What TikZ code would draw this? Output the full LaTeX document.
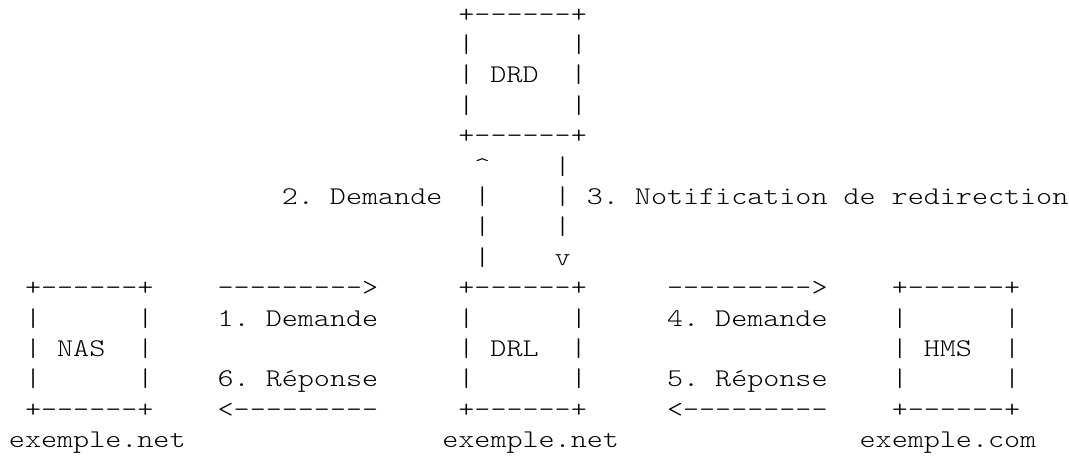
\documentclass[tikz,border=0pt]{standalone}
\usepackage{fontspec}
% Light typewriter face, widened a little, loaded directly (no TeX ligature mapping)
\font\asciifont="[lmmonolt10-regular]:extend=1.2" at 12.75pt
\newlength\cellw
\setlength\cellw{8.025pt}
% set a string one character per fixed-width cell (write spaces as ~)
\def\mono#1{\monostep#1\relax}
\def\monostep#1{\ifx#1\relax\else\makebox[\cellw][c]{#1}\expandafter\monostep\fi}
\tikzset{
  cell/.style={anchor=base west, inner sep=0pt, outer sep=0pt,
    font=\asciifont, text=black}
}
% place text at a character cell: name, column, row, text
\newcommand\asc[4]{\node[cell] (#1) at ({4.5pt+#2*\cellw},{-11pt-#3*15.2pt}) {\mono{#4}};}
\begin{document}
\begin{tikzpicture}
\useasboundingbox (0,0) rectangle (534.5pt,-227.5pt);
% DRD
\asc{drdA}{28}{0}{+------+}
\asc{drdB}{28}{1}{|~~~~~~|}
\asc{drd}{28}{2}{|~DRD~~|}
\asc{drdC}{28}{3}{|~~~~~~|}
\asc{drdD}{28}{4}{+------+}
% vertical links between DRD and DRL
\asc{upA}{29}{5}{\textasciicircum}
\asc{dnA}{34}{5}{|}
\asc{lblB}{17}{6}{2.~Demande}
\asc{upB}{29}{6}{|}
\asc{dnB}{34}{6}{|}
\asc{lblC}{36}{6}{3.~Notification~de~redirection}
\asc{upC}{29}{7}{|}
\asc{dnC}{34}{7}{|}
\asc{upD}{29}{8}{|}
\asc{dnD}{34}{8}{v}
% NAS
\asc{nasA}{1}{9}{+------+}
\asc{nasB}{1}{10}{|~~~~~~|}
\asc{nas}{1}{11}{|~NAS~~|}
\asc{nasC}{1}{12}{|~~~~~~|}
\asc{nasD}{1}{13}{+------+}
\asc{nasDom}{0}{14}{exemple.net}
% NAS <-> DRL
\asc{arrA}{13}{9}{--------->}
\asc{lblA}{13}{10}{1.~Demande}
\asc{lblF}{13}{12}{6.~Réponse}
\asc{arrF}{13}{13}{<---------}
% DRL
\asc{drlA}{28}{9}{+------+}
\asc{drlB}{28}{10}{|~~~~~~|}
\asc{drl}{28}{11}{|~DRL~~|}
\asc{drlC}{28}{12}{|~~~~~~|}
\asc{drlD}{28}{13}{+------+}
\asc{drlDom}{27}{14}{exemple.net}
% DRL <-> HMS
\asc{arrD}{41}{9}{--------->}
\asc{lblD}{41}{10}{4.~Demande}
\asc{lblE}{41}{12}{5.~Réponse}
\asc{arrE}{41}{13}{<---------}
% HMS
\asc{hmsA}{55}{9}{+------+}
\asc{hmsB}{55}{10}{|~~~~~~|}
\asc{hms}{55}{11}{|~HMS~~|}
\asc{hmsC}{55}{12}{|~~~~~~|}
\asc{hmsD}{55}{13}{+------+}
\asc{hmsDom}{53}{14}{exemple.com}
\end{tikzpicture}
\end{document}
